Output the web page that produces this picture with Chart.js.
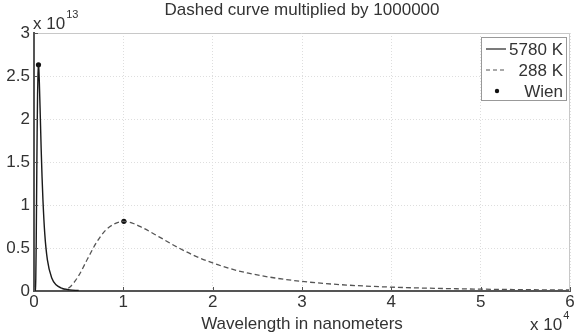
<!DOCTYPE html>
<html>
<head>
<meta charset="utf-8">
<script src="https://cdn.jsdelivr.net/npm/chart.js@4.4.0/dist/chart.umd.min.js"></script>
<style>
  html, body { margin: 0; padding: 0; background: #fff; }
  #chartContainer { width: 579px; height: 335px; }
</style>
</head>
<body>
<div id="chartContainer">
  <canvas id="chart" width="579" height="335"></canvas>
</div>
<script>
// spectral radiance of the sun, wavelength in nm
const sunWavelengths = [0, 100, 150, 200, 250, 300, 350, 400, 450, 500, 550, 600, 700, 800, 900, 1000, 1200, 1500, 2000, 2500, 3000, 4000, 5000];
const sunValues = [0, 0, 0.1e12, 1.48e12, 5.78e12, 1.22e13, 1.84e13, 2.29e13, 2.53e13, 2.63e13, 2.57e13, 2.42e13, 2.05e13, 1.66e13, 1.33e13, 1.06e13, 6.73e12, 3.61e12, 1.47e12, 7.0e11, 3.7e11, 1.32e11, 5.8e10];

// earth curve, already multiplied by 1000000
const earthWavelengths = [3000, 4000, 5000, 6000, 7000, 8000, 9000, 10000, 11000, 12000, 14000, 16000, 18000, 20000, 22000, 24000, 27000, 30000, 35000, 40000, 45000, 50000, 55000, 60000];
const earthValues = [3.05e10, 4.5e11, 1.78e12, 3.75e12, 5.65e12, 7.05e12, 7.8e12, 8.1e12, 7.9e12, 7.44e12, 6.3e12, 5.12e12, 4.09e12, 3.26e12, 2.59e12, 2.07e12, 1.51e12, 1.11e12, 6.9e11, 4.5e11, 3.07e11, 2.15e11, 1.55e11, 1.14e11];

// peaks from Wien's law
const wienWavelengths = [501, 10062];
const wienValues = [2.63e13, 8.1e12];

const xTicks = [0, 1, 2, 3, 4, 5, 6];
const yTicks = [0, 0.5, 1, 1.5, 2, 2.5, 3];

const FONT = '"Liberation Sans", Arial, Helvetica, sans-serif';

function pairs(xs, ys) {
  return xs.map((x, i) => ({ x: x, y: ys[i] }));
}

// axis exponents, frame, inward ticks and the boxed legend
const decorations = {
  id: 'decorations',
  afterDraw(chart) {
    const ctx = chart.ctx;
    const a = chart.chartArea;
    const xs = chart.scales.x;
    const ys = chart.scales.y;
    ctx.save();

    // light top and right frame
    ctx.strokeStyle = '#c8c8c8';
    ctx.lineWidth = 1;
    ctx.beginPath();
    ctx.moveTo(a.left, a.top + 0.5);
    ctx.lineTo(a.right - 0.5, a.top + 0.5);
    ctx.lineTo(a.right - 0.5, a.bottom);
    ctx.stroke();

    // inward tick marks
    ctx.strokeStyle = '#555';
    ctx.beginPath();
    xTicks.forEach(t => {
      const px = Math.round(xs.getPixelForValue(t * 1e4)) + 0.5;
      ctx.moveTo(px, a.bottom);
      ctx.lineTo(px, a.bottom - 4);
    });
    yTicks.forEach(t => {
      const py = Math.round(ys.getPixelForValue(t * 1e13)) + 0.5;
      ctx.moveTo(a.left, py);
      ctx.lineTo(a.left + 4, py);
    });
    ctx.stroke();

    // exponent labels
    ctx.fillStyle = '#333';
    ctx.textBaseline = 'alphabetic';
    ctx.textAlign = 'left';
    ctx.font = '17px ' + FONT;
    ctx.fillText('x 10', 33, 29);
    let w = ctx.measureText('x 10').width;
    ctx.font = '11px ' + FONT;
    ctx.fillText('13', 33 + w + 1, 18);

    ctx.font = '17px ' + FONT;
    ctx.fillText('x 10', 530, 330);
    w = ctx.measureText('x 10').width;
    ctx.font = '11px ' + FONT;
    ctx.fillText('4', 530 + w + 1, 319);

    // legend
    const lx = 481, ly = 37, lw = 85, lh = 63;
    ctx.fillStyle = '#fff';
    ctx.fillRect(lx, ly, lw, lh);
    ctx.strokeStyle = '#999';
    ctx.strokeRect(lx + 0.5, ly + 0.5, lw, lh);

    const rows = [49, 70, 91];
    ctx.lineWidth = 1.2;
    ctx.strokeStyle = '#222';
    ctx.setLineDash([]);
    ctx.beginPath();
    ctx.moveTo(486, rows[0]);
    ctx.lineTo(506, rows[0]);
    ctx.stroke();
    ctx.strokeStyle = '#555';
    ctx.setLineDash([4, 3]);
    ctx.beginPath();
    ctx.moveTo(486, rows[1]);
    ctx.lineTo(506, rows[1]);
    ctx.stroke();
    ctx.setLineDash([]);
    ctx.fillStyle = '#111';
    ctx.beginPath();
    ctx.arc(497, rows[2], 2.2, 0, Math.PI * 2);
    ctx.fill();

    ctx.fillStyle = '#333';
    ctx.font = '17px ' + FONT;
    ctx.textAlign = 'right';
    ctx.textBaseline = 'middle';
    ctx.fillText('5780 K', 563, rows[0] + 1);
    ctx.fillText('288 K', 563, rows[1] + 1);
    ctx.fillText('Wien', 563, rows[2] + 1);
    ctx.restore();
  }
};

const chartData = {
  datasets: [{
    label: '5780 K',
    data: pairs(sunWavelengths, sunValues),
    borderColor: '#1a1a1a',
    borderWidth: 1.4,
    pointRadius: 0,
    cubicInterpolationMode: 'monotone',
    fill: false
  }, {
    label: '288 K',
    data: pairs(earthWavelengths, earthValues),
    borderColor: '#555',
    borderWidth: 1.3,
    borderDash: [5, 3],
    pointRadius: 0,
    cubicInterpolationMode: 'monotone',
    fill: false
  }, {
    label: 'Wien',
    data: pairs(wienWavelengths, wienValues),
    showLine: false,
    pointRadius: 2.6,
    pointBackgroundColor: '#111',
    pointBorderColor: '#111',
    pointBorderWidth: 0
  }]
};

const options = {
  responsive: false,
  animation: false,
  layout: { padding: { top: 0, left: 0, right: 9, bottom: 0 } },
  plugins: {
    legend: { display: false },
    tooltip: { enabled: false },
    title: {
      display: true,
      fullSize: false,
      text: 'Dashed curve multiplied by 1000000',
      color: '#333',
      font: { family: FONT, size: 17, weight: 'normal' },
      padding: { top: 0, bottom: 12.6 }
    }
  },
  scales: {
    x: {
      type: 'linear',
      min: 0,
      max: 60000,
      afterBuildTicks: scale => { scale.ticks = xTicks.map(t => ({ value: t * 1e4 })); },
      afterFit: scale => { scale.height = 44; },
      ticks: {
        color: '#333',
        font: { family: FONT, size: 17 },
        padding: 1,
        maxRotation: 0,
        callback: v => String(v / 1e4)
      },
      grid: { color: '#dedede', drawTicks: false, lineWidth: 1 },
      border: { color: '#555', width: 2, dash: [1, 2] },
      title: {
        display: true,
        text: 'Wavelength in nanometers',
        color: '#333',
        font: { family: FONT, size: 17 },
        padding: { top: 0, bottom: 0 }
      }
    },
    y: {
      type: 'linear',
      min: 0,
      max: 3e13,
      afterBuildTicks: scale => { scale.ticks = yTicks.map(t => ({ value: t * 1e13 })); },
      afterFit: scale => { scale.width = 34; },
      ticks: {
        color: '#333',
        font: { family: FONT, size: 17 },
        padding: 4,
        callback: v => String(v / 1e13)
      },
      grid: { color: '#dedede', drawTicks: false, lineWidth: 1 },
      border: { color: '#555', width: 2, dash: [1, 2] }
    }
  }
};

const spiderChart = new Chart(document.getElementById('chart').getContext('2d'), {
  type: 'line',
  data: chartData,
  options: options,
  plugins: [decorations]
});
</script>
</body>
</html>
